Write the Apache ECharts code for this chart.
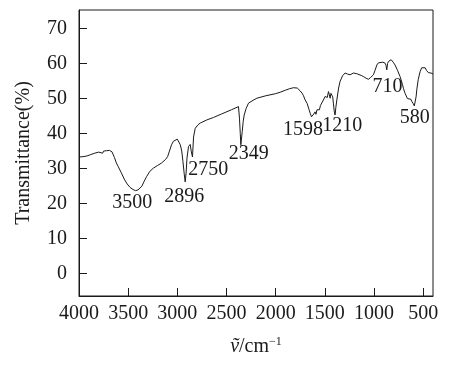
<!DOCTYPE html>
<html>
<head>
<meta charset="utf-8">
<script src="https://cdn.jsdelivr.net/npm/echarts@6/dist/echarts.min.js"></script>
<style>html,body{margin:0;padding:0;background:#fff}#c{width:452px;height:366px}</style>
</head>
<body>
<div id="c"></div>
<script>
// Wavenumber (cm^-1)
const wavenumbers = [4000,3980,3960,3940,3920,3900,3880,3860,3840,3820,3800,3790,3780,3760,3750,3740,3720,3700,3690,3680,3665,3640,3620,3600,3570,3540,3510,3480,3450,3425,3400,3380,3360,3340,3313,3280,3245,3200,3160,3120,3099,3080,3059,3040,3020,3000,2985,2970,2955,2943,2930,2920,2910,2902,2886,2869,2859,2846,2835,2818,2790,2767,2700,2632,2550,2450,2378,2368,2360,2354,2346,2340,2330,2320,2300,2276,2230,2191,2100,2000,1954,1900,1860,1840,1819,1800,1780,1760,1751,1730,1717,1700,1680,1660,1649,1635,1626,1612,1599,1590,1580,1565,1555,1545,1530,1520,1510,1497,1485,1475,1463,1455,1446,1438,1429,1420,1413,1405,1396,1388,1378,1360,1345,1320,1294,1270,1255,1243,1225,1209,1190,1175,1158,1130,1108,1080,1057,1035,1006,990,971,955,938,910,887,878,870,862,853,840,826,805,786,760,735,710,700,684,670,660,650,640,625,616,600,590,580,572,565,550,531,515,498,480,465,455,447,430,420,400];
// Transmittance (%)
const transmittance = [33.3,33.5,33.4,33.8,33.6,33.9,34.0,33.7,34.4,34.0,34.7,34.2,34.8,34.4,35.0,34.5,35.1,34.8,35.2,34.9,34.8,33.2,31.6,30.5,28.8,27.0,25.6,24.6,24.0,23.7,23.9,24.4,25.0,26.2,27.7,29.2,30.1,30.9,31.6,32.6,33.4,35.0,36.8,37.8,38.3,38.4,38.0,36.8,35.0,32.0,28.5,26.2,29.0,33.0,36.3,36.9,35.0,33.3,39.0,41.5,42.5,43.0,43.9,44.6,45.6,46.8,47.7,44.4,40.0,36.8,39.0,40.6,43.5,45.3,47.2,48.7,49.5,50.1,50.8,51.4,51.8,52.4,52.8,52.6,53.1,52.8,53.0,52.5,52.2,51.5,50.8,49.6,48.6,46.8,45.8,44.8,44.3,45.6,46.2,45.5,46.8,47.3,46.8,48.0,48.2,49.3,48.8,50.6,51.0,50.3,52.0,51.2,50.1,51.5,52.0,50.5,48.7,46.5,45.3,47.5,49.6,53.0,54.9,56.5,57.3,57.0,57.2,56.8,57.2,57.3,56.9,57.1,56.8,56.6,56.3,55.8,55.5,56.0,56.8,58.0,59.6,60.2,60.3,60.4,60.1,59.5,58.2,60.0,60.6,61.0,61.1,60.4,59.6,58.0,56.3,54.0,52.8,51.5,51.0,50.0,50.3,49.6,49.8,49.2,48.5,47.9,48.3,50.5,52.5,55.5,57.7,58.8,59.3,58.8,58.0,57.5,57.4,57.0,57.3,57.0];
// Peak annotation labels and their positions (data coordinates)
const peakLabels = ['3500','2896','2750','2349','1598','1210','710','580'];
const peakLabelX = [3458,2930,2686,2274,1721,1324,862,585];
const peakLabelY = [20.3,22.0,29.8,34.1,41.1,42.3,53.4,44.4];

const xTitle = '{i|ṽ}/cm{s|−1}';
const yTitle = 'Transmittance(%)';

const FONT = '"Liberation Serif", "Times New Roman", serif';
const INK = '#1a1a1a';
const chart = echarts.init(document.getElementById('c'), null, {renderer: 'canvas'});
chart.setOption({
  animation: false,
  backgroundColor: '#fff',
  grid: {left: 79, right: 19, top: 10, bottom: 70, show: true, borderColor: INK, borderWidth: 1, backgroundColor: 'transparent'},
  xAxis: {
    type: 'value', inverse: true, min: 400, max: 4000, splitNumber: 7,
    axisLine: {onZero: false, lineStyle: {color: INK, width: 1}},
    axisTick: {inside: true, length: 8, lineStyle: {color: INK}},
    splitLine: {show: false},
    axisLabel: {showMinLabel: false, showMaxLabel: true, margin: 8, color: INK, fontFamily: FONT, fontSize: 20,
      formatter: v => (v % 500 === 0 ? String(v) : '')},
    name: xTitle, nameLocation: 'middle', nameGap: 40,
    nameTextStyle: {color: INK, fontFamily: FONT, fontSize: 20,
      rich: {i: {fontStyle: 'italic', fontFamily: FONT, fontSize: 20, color: INK},
             s: {fontSize: 12, fontFamily: FONT, color: INK, verticalAlign: 'top', padding: [0,0,10,0]}}}
  },
  yAxis: {
    type: 'value', min: -6.4, max: 75.3, splitNumber: 8,
    axisLine: {onZero: false, lineStyle: {color: INK, width: 1}},
    axisTick: {inside: true, length: 8, lineStyle: {color: INK}},
    splitLine: {show: false},
    axisLabel: {showMinLabel: false, showMaxLabel: false, margin: 12, color: INK, fontFamily: FONT, fontSize: 20,
      formatter: v => (Math.abs(v % 10) < 1e-9 ? String(v) : '')},
    name: yTitle, nameLocation: 'middle', nameGap: 45,
    nameTextStyle: {color: INK, fontFamily: FONT, fontSize: 20}
  },
  series: [
    {
      type: 'line', showSymbol: false, symbol: 'none',
      data: wavenumbers.map((w, i) => [w, transmittance[i]]),
      lineStyle: {color: INK, width: 1},
      z: 2
    },
    {
      type: 'scatter', symbolSize: 1, itemStyle: {color: 'rgba(0,0,0,0)', opacity: 1},
      data: peakLabels.map((t, i) => ({value: [peakLabelX[i], peakLabelY[i]], name: t})),
      label: {show: true, position: 'inside', formatter: p => p.name, color: INK, opacity: 1,
        textBorderWidth: 0, fontFamily: FONT, fontSize: 20},
      emphasis: {disabled: true},
      silent: true, z: 3
    }
  ]
});
</script>
</body>
</html>
